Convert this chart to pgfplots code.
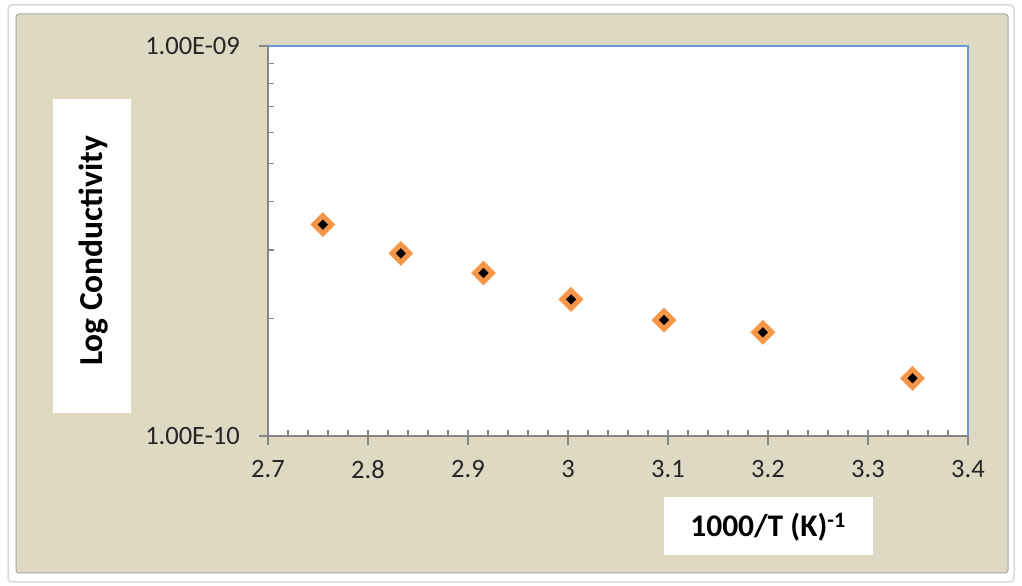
\documentclass[border=0pt]{standalone}
\usepackage{fontspec}
\setmainfont{Carlito}
\usepackage{pgfplots}
\pgfplotsset{compat=1.18}
\definecolor{beige}{HTML}{DDD9C3}
\definecolor{axgray}{HTML}{868686}
\definecolor{bblue}{HTML}{6E99D2}
\definecolor{morange}{HTML}{F79646}
\begin{document}
\begin{tikzpicture}[x=1bp,y=1bp]
\useasboundingbox (0,0) rectangle (1022,586);
\fill[white] (0,0) rectangle (1022,586);
\draw[black!15, line width=1.5bp, rounded corners=4bp] (8,4) rectangle (1014,581);
\filldraw[fill=beige, draw=black!35, line width=1bp, rounded corners=3bp] (16,13) rectangle (1008,572);
\fill[white] (53,173) rectangle (131,487);
\node[rotate=90, font=\fontsize{33.5bp}{40bp}\selectfont\bfseries] at (94,335) {Log Conductivity};
\fill[white] (664,31) rectangle (873,89);
\node[font=\fontsize{31.5bp}{37bp}\selectfont\bfseries] at (768,59) {1000/T (K)\textsuperscript{-1}};
\begin{axis}[
  at={(268bp,150bp)}, anchor=south west,
  scale only axis, width=700bp, height=390bp,
  axis background/.style={fill=white},
  xmin=2.7, xmax=3.4, ymin=1e-10, ymax=1e-9,
  ymode=log,
  axis x line*=bottom, axis y line*=left,
  axis line style={axgray, line width=1.5bp, -},
  xtick={2.7,2.8,2.9,3,3.1,3.2,3.3,3.4},
  xticklabels={2.7,2.8,2.9,3,3.1,3.2,3.3,3.4},
  minor x tick num=4,
  ytick={1e-10,1e-9},
  yticklabels={1.00E-10,1.00E-09},
  tick align=inside,
  major tick length=15bp, minor tick length=6bp,
  tick style={axgray, line width=1.2bp},
  major x tick style={yshift=-9bp},
  major y tick style={xshift=-9bp},
  ticklabel style={font=\fontsize{26.5bp}{31bp}\selectfont, text=black!85, inner sep=0pt},
  xticklabel style={anchor=north, yshift=-24bp},
  yticklabel style={anchor=east, xshift=-28bp},
  clip=false,
]
\draw[bblue, line width=2.2bp] (rel axis cs:0,1) -- (rel axis cs:1,1) -- (rel axis cs:1,0);
\addplot[only marks, mark=square*, mark size=6.3bp,
  mark options={rotate=45, draw=morange, fill=black, line width=5bp}]
  coordinates {
  (2.7548,3.485e-10)
  (2.8329,2.94e-10)
  (2.9155,2.618e-10)
  (3.0030,2.241e-10)
  (3.0960,1.983e-10)
  (3.1949,1.845e-10)
  (3.3445,1.406e-10)
  };
\end{axis}
\end{tikzpicture}
\end{document}
